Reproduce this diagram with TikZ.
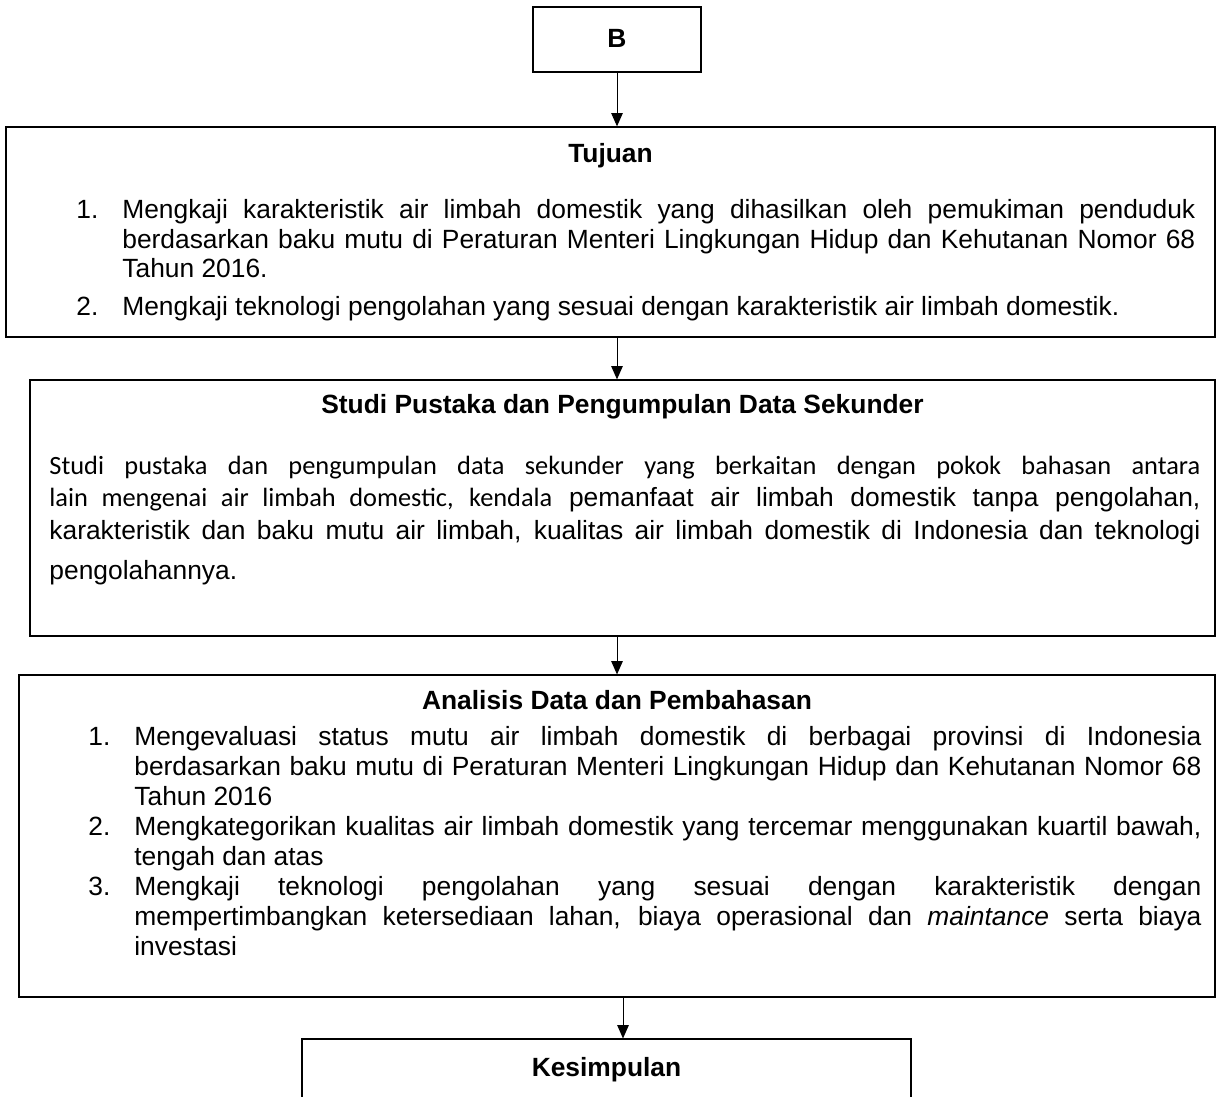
\documentclass[tikz,border=0pt]{standalone}
\usepackage{fontspec}
\setmainfont{Liberation Sans}
\newfontfamily\calibrifont{Carlito}
\usetikzlibrary{arrows.meta}

\newlength{\numw}
\newlength{\itemw}
\newcommand{\listitem}[2]{\par\noindent\hangindent=\numw\hangafter=1\makebox[\numw][l]{#1}#2\par}
\newcommand{\jline}[1]{\makebox[\itemw][s]{#1}\\}
\newcommand{\pline}[1]{\makebox[\linewidth][s]{#1}\\}

\begin{document}
\begin{tikzpicture}[x=0.455pt,y=-0.455pt]

% definitions
\tikzstyle{box} = [rectangle, draw=black, line width=0.55pt, inner sep=0pt]

\tikzstyle{title} = [anchor=base, inner sep=0pt, font=\fontsize{12pt}{14pt}\selectfont\bfseries]

\tikzstyle{body} = [anchor=base west, inner sep=0pt, font=\fontsize{12pt}{13.65pt}\selectfont]

\tikzstyle{arrow} = [->, >={Triangle[length=6pt,width=5.2pt]}, line width=0.45pt]

\useasboundingbox (0,0) rectangle (1223,1097);

% the boxes
\node (b) [box, minimum width=76.4pt, minimum height=29.6pt, font=\fontsize{12pt}{14pt}\selectfont\bfseries] at (617,39.5) {\raisebox{1.2pt}{B}};

\node (tujuan) [box, minimum width=550.1pt, minimum height=95.6pt] at (610.5,232) {};

\node (studi) [box, minimum width=539.2pt, minimum height=116.5pt] at (622.5,508) {};

\node (analisis) [box, minimum width=544.2pt, minimum height=146.5pt] at (617,836) {};

\node (kesimpulan) [box, minimum width=277.1pt, minimum height=33.2pt] at (606.5,1075.5) {};

% the texts
\node (tujuanT) [title] at (610.5,163) {Tujuan};

\node (tujuanL) [body, font=\fontsize{12pt}{13.2pt}\selectfont] at (76,219) {\setlength{\numw}{20.9pt}\setlength{\itemw}{488.2pt}\parbox[t]{509.1pt}{%
\listitem{1.}{\jline{Mengkaji karakteristik air limbah domestik yang dihasilkan oleh pemukiman penduduk}\jline{berdasarkan baku mutu di Peraturan Menteri Lingkungan Hidup dan Kehutanan Nomor 68}Tahun 2016.}
\vspace{4.3pt}
\listitem{2.}{Mengkaji teknologi pengolahan yang sesuai dengan karakteristik air limbah domestik.}}};

\node (studiT) [title] at (622.5,414) {Studi Pustaka dan Pengumpulan Data Sekunder};

\node (studiP) [body, font=\fontsize{12pt}{15pt}\selectfont] at (49,474) {\parbox[t]{523.7pt}{%
\pline{\calibrifont Studi pustaka dan pengumpulan data sekunder yang berkaitan dengan pokok bahasan antara}
\pline{{\calibrifont lain mengenai air limbah domestic, kendala} pemanfaat air limbah domestik tanpa pengolahan,}
\makebox[\linewidth][s]{karakteristik dan baku mutu air limbah, kualitas air limbah domestik di Indonesia dan teknologi}\\[3.2pt]
pengolahannya.}};

\node (analisisT) [title] at (617,709) {Analisis Data dan Pembahasan};

\node (analisisL) [body] at (88,745) {\setlength{\numw}{20.9pt}\setlength{\itemw}{485.5pt}\parbox[t]{506.4pt}{%
\listitem{1.}{\jline{Mengevaluasi status mutu air limbah domestik di berbagai provinsi di Indonesia}\jline{berdasarkan baku mutu di Peraturan Menteri Lingkungan Hidup dan Kehutanan Nomor 68}Tahun 2016}
\listitem{2.}{\jline{Mengkategorikan kualitas air limbah domestik yang tercemar menggunakan kuartil bawah,}tengah dan atas}
\listitem{3.}{\jline{Mengkaji teknologi pengolahan yang sesuai dengan karakteristik dengan}\jline{mempertimbangkan ketersediaan lahan, biaya operasional dan \textit{maintance} serta biaya}investasi}}};

\node (kesimpulanT) [title] at (606.5,1076) {Kesimpulan};

% the arrows
\coordinate (a4) at (623,0);

\draw [arrow] (b.south) -- (b.south |- tujuan.north);
\draw [arrow] (b.south |- tujuan.south) -- (b.south |- studi.north);
\draw [arrow] (b.south |- studi.south) -- (b.south |- analisis.north);
\draw [arrow] (a4 |- analisis.south) -- (a4 |- kesimpulan.north);

\end{tikzpicture}
\end{document}
